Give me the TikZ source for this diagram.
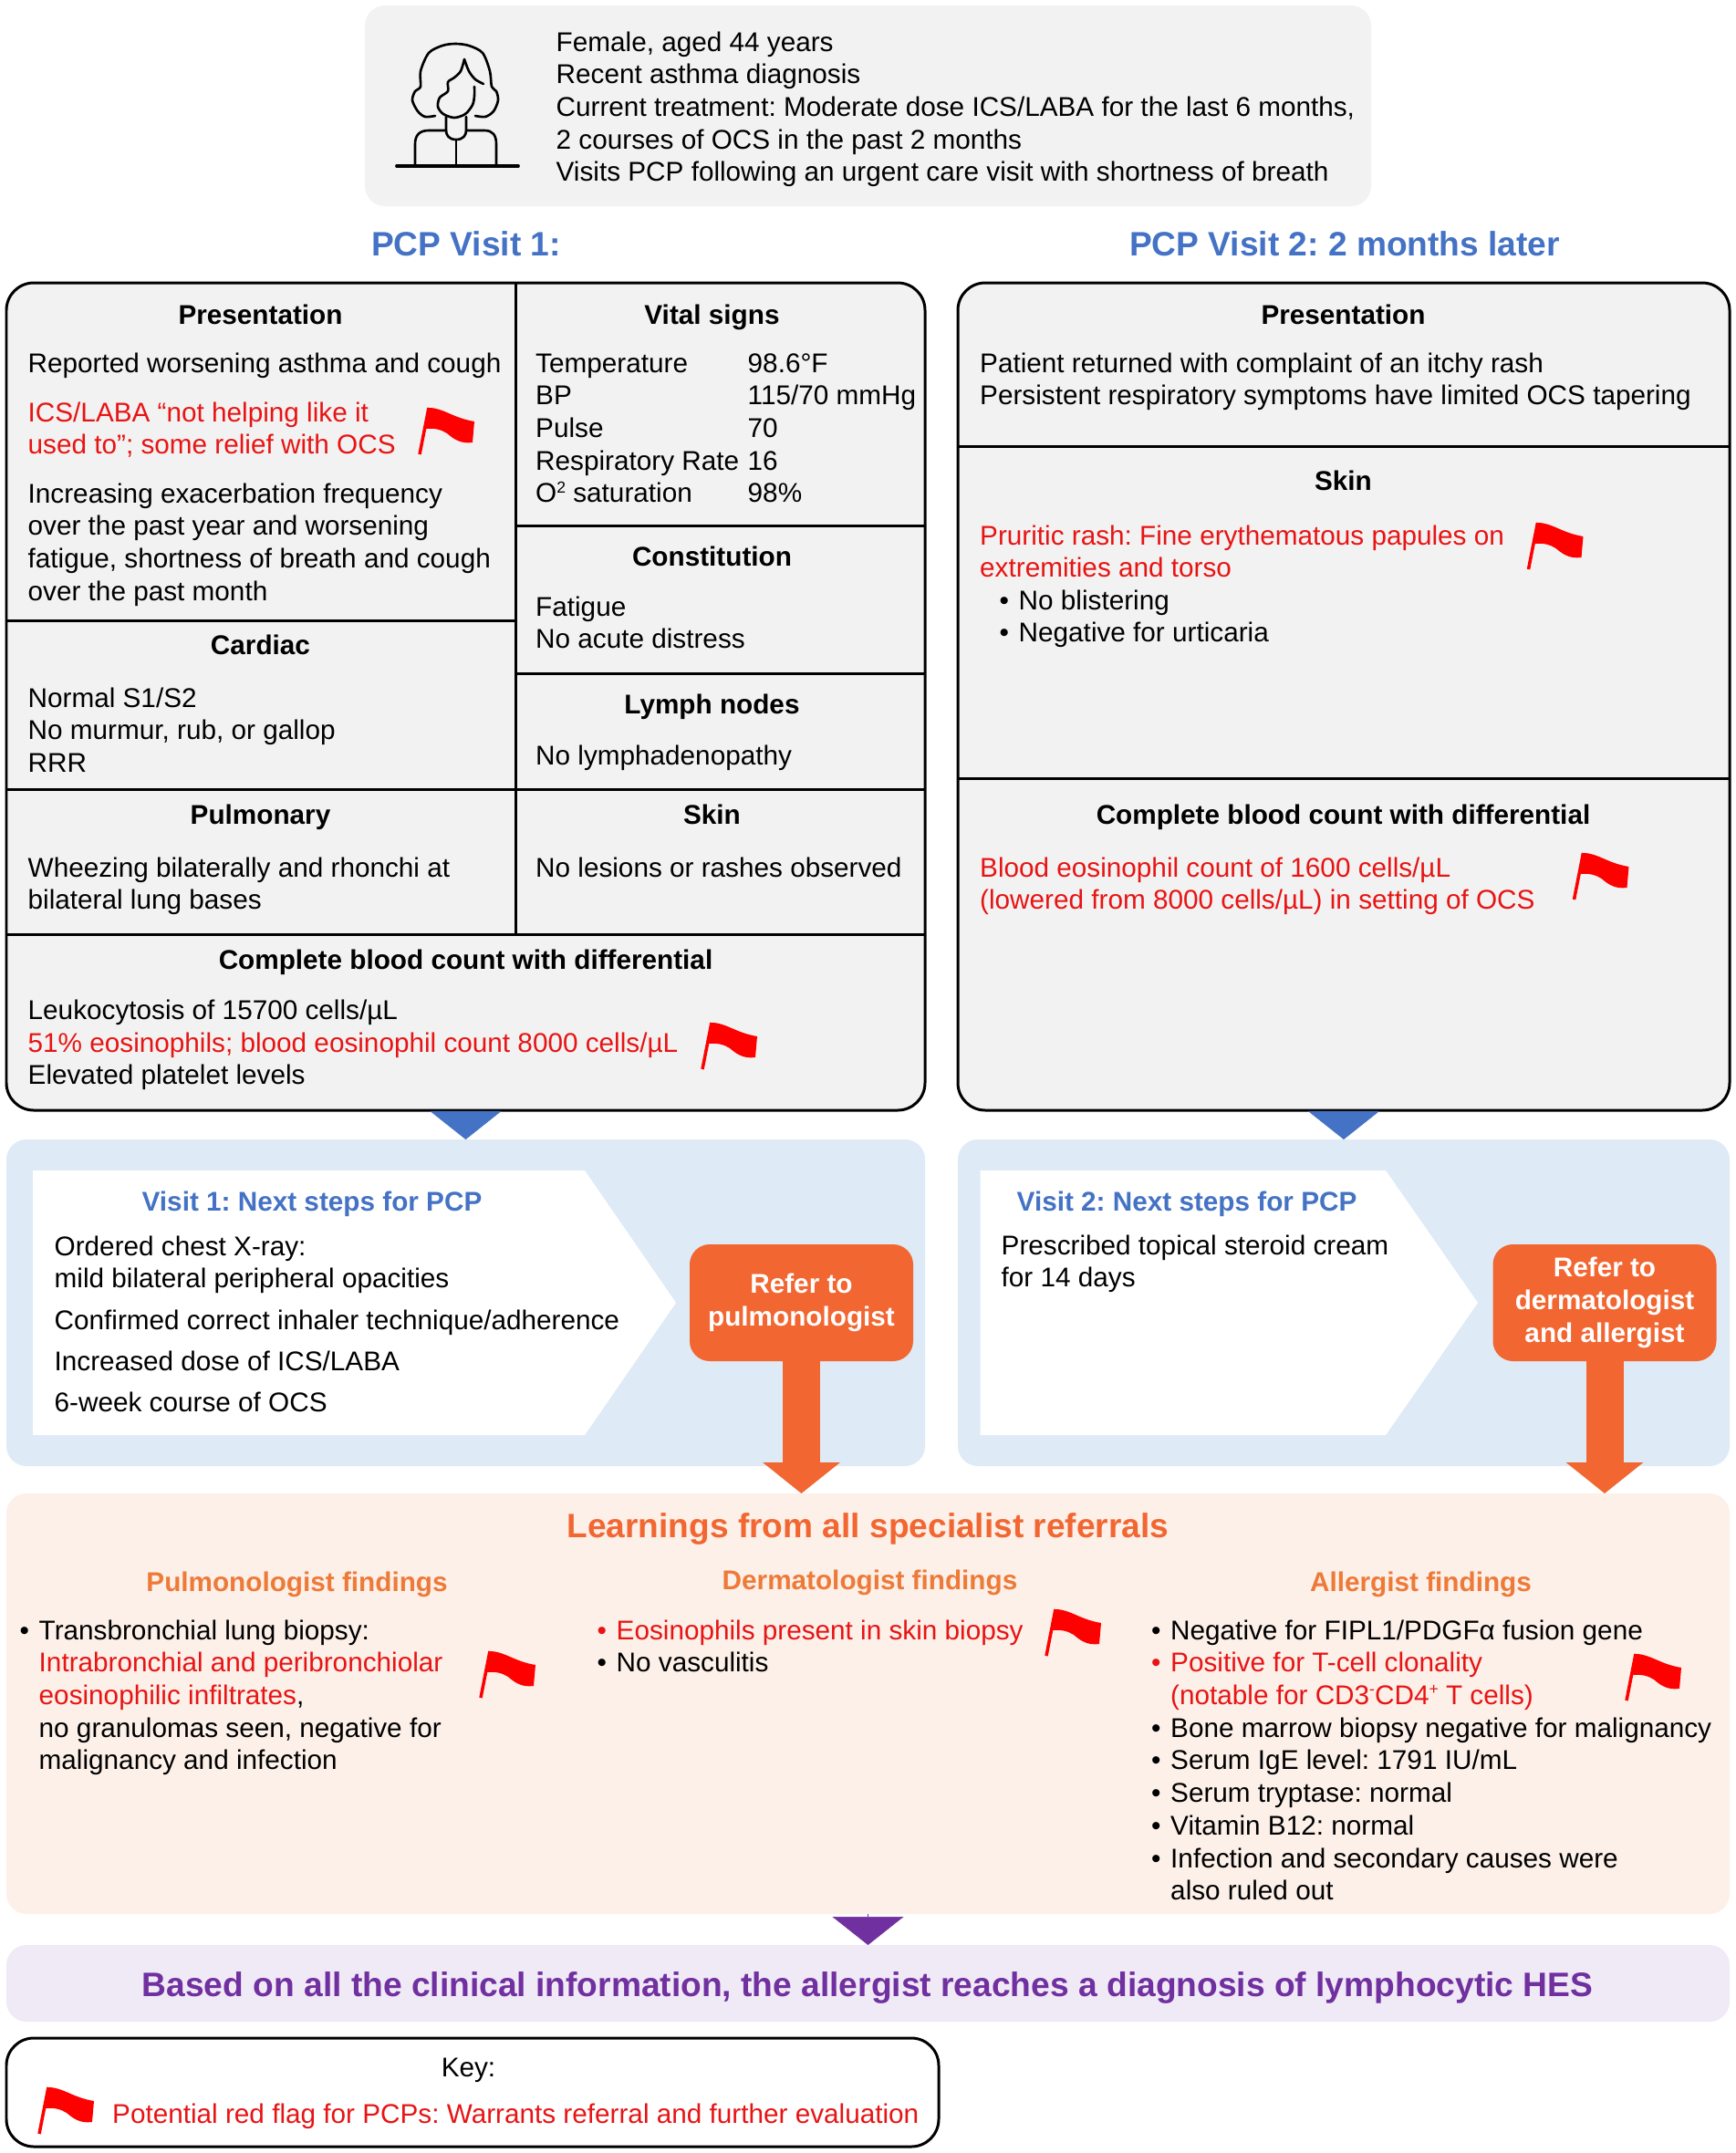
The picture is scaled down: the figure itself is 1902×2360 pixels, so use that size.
\documentclass[tikz,border=0pt]{standalone}
\usepackage{fontspec}
\setmainfont{Liberation Sans}
\usetikzlibrary{arrows.meta,positioning}

\definecolor{panelgrey}{HTML}{F2F2F2}
\definecolor{visitblue}{HTML}{4472C4}
\definecolor{nextblue}{HTML}{DEEAF6}
\definecolor{referorange}{HTML}{F26631}
\definecolor{learnpeach}{HTML}{FCF0E9}
\definecolor{findorange}{HTML}{EE7A38}
\definecolor{dxpurple}{HTML}{7030A0}
\definecolor{dxlilac}{HTML}{F0E9F6}
\definecolor{flagred}{HTML}{E81414}

\frenchspacing
\newcommand{\bodyfont}{\fontsize{8.45}{10.16}\selectfont}
\newcommand{\bul}{\makebox[.21cm][l]{\textbullet}}
\newcommand{\ind}{\hspace*{.21cm}}
\newcommand{\tinysup}[1]{\raisebox{.36em}{\fontsize{5}{6}\selectfont #1}}

\begin{document}
\begin{tikzpicture}[
    x = .01cm, % one unit is one pixel of the reference
    y = -.01cm,
    boxsize/.style 2 args = {minimum width = #1*.01cm, minimum height = #2*.01cm},
    txt/.style = {inner sep = 0pt, yshift = .147cm, anchor = north west, align = left, font = \bodyfont},
    txthead/.style = {txt, anchor = north, align = center, font = \bodyfont\bfseries},
    softbox/.style = {inner sep = 0pt, outer sep = 0pt, rounded corners = .22cm, align = center},
    visitbox/.style = {softbox, draw = black, line width = .85pt, outer sep = .42pt, fill = panelgrey, rounded corners = .3cm},
    referbox/.style = {softbox, fill = referorange, text = white, font = \bodyfont\bfseries},
    rule/.style = {draw = black, line width = .85pt},
    tip/.style = {line width = .2pt, -{Triangle[length = .31cm, width = .78cm]}},
    referarrow/.style = {draw = referorange, line width = .41cm, -{Triangle[length = .34cm, width = .83cm]}},
    icon/.style = {draw = black, line width = .75pt, line cap = round, line join = round},
    pics/redflag/.style = {code = {
        \draw[red, line width = 1pt] (0,51) -- (10,0);
        \fill[red] (10,0) .. controls (26,0) and (36,11) .. (60,15) -- (58,38)
            .. controls (44,40) and (36,33) .. (30,28)
            .. controls (24,24) and (16,22) .. (7,23) -- cycle;
    }}
    ]

    \useasboundingbox (0,0) rectangle (1902,2360);

    % patient
    \node[softbox, fill = panelgrey, boxsize = {1103}{220}] (patient) at (951.5,116) {};
    \node[txt] (history) at (609,45) {\strut Female, aged 44 years\\
        Recent asthma diagnosis\\
        Current treatment: Moderate dose ICS/LABA for the last 6 months,\\
        2 courses of OCS in the past 2 months\\
        Visits PCP following an urgent care visit with shortness of breath};

    \draw[icon, line width = 1.1pt] (435,182) -- (568,182);
    \draw[icon] plot[smooth] coordinates {(477,127) (466,128) (458,122) (452,110) (455,100) (461,95) (461,78) (470,58) (485,50) (499,48) (514,50) (529,58) (537,78) (539,95) (544,100) (546,110) (541,122) (532,128) (521,127)};
    \draw[icon] plot[smooth] coordinates {(509,65) (505,78) (498,85) (491,90) (491,100) (482,107) (480,117) (486,125) (498,129) (510,125) (518,115) (520,105) (520,95)};
    \draw[icon] plot[smooth] coordinates {(509,65) (514,78) (521,87) (530,92)};
    \draw[icon] (489,128) -- (489,143) .. controls (489,148) and (492,153) .. (500,153) .. controls (508,153) and (511,148) .. (511,143) -- (511,128);
    \draw[icon] (489,143) -- (470,143) .. controls (460,143) and (455,148) .. (455,158) -- (455,182);
    \draw[icon] (511,143) -- (531,143) .. controls (540,143) and (544,148) .. (544,158) -- (544,182);
    \draw[icon, line width = .5pt] (500,153) -- (500,182);

    % the two visits
    \node[txthead, font = \fontsize{10.56}{12.6}\selectfont\bfseries, text = visitblue] (title1) at (511,263) {\strut PCP Visit 1:};
    \node[txthead, font = \fontsize{10.56}{12.6}\selectfont\bfseries, text = visitblue] (title2) at (1474,263) {\strut PCP Visit 2: 2 months later};

    \node[visitbox, boxsize = {1007}{907}] (visit1) at (510.5,763.5) {};
    \node[visitbox, boxsize = {846}{907}] (visit2) at (1473,763.5) {};

    \draw[rule] (565,310) -- (565,1024);
    \draw[rule] (7,680) -- (565,680);
    \draw[rule] (7,865) -- (1014,865);
    \draw[rule] (7,1024) -- (1014,1024);
    \draw[rule] (565,576) -- (1014,576);
    \draw[rule] (565,738) -- (1014,738);
    \draw[rule] (1050,489) -- (1896,489);
    \draw[rule] (1050,853) -- (1896,853);

    \node[txthead] (pres1) at (285.5,344) {\strut Presentation};
    \node[txt] (pres1a) at (30,397) {\strut Reported worsening asthma and cough};
    \node[txt, text = flagred] (pres1b) at (30,451) {\strut ICS/LABA “not helping like it\\used to”; some relief with OCS};
    \pic at (460,447) {redflag};
    \node[txt] (pres1c) at (30,540) {\strut Increasing exacerbation frequency\\
        over the past year and worsening\\
        fatigue, shortness of breath and cough\\
        over the past month};

    \node[txthead] (vital) at (780.5,344) {\strut Vital signs};
    \node[txt] (vitalname) at (586.5,397) {\strut Temperature\\BP\\Pulse\\Respiratory Rate\\O\tinysup{2} saturation};
    \node[txt] (vitalvalue) at (819,397) {\strut 98.6°F\\115/70 mmHg\\70\\16\\98\%};

    \node[txthead] (const) at (780.5,609) {\strut Constitution};
    \node[txt] (consttxt) at (586.5,664) {\strut Fatigue\\No acute distress};
    \node[txthead] (lymph) at (780.5,771) {\strut Lymph nodes};
    \node[txt] (lymphtxt) at (586.5,827) {\strut No lymphadenopathy};

    \node[txthead] (card) at (285.5,706) {\strut Cardiac};
    \node[txt] (cardtxt) at (30,764) {\strut Normal S1/S2\\No murmur, rub, or gallop\\RRR};
    \node[txthead] (pulm) at (285.5,892) {\strut Pulmonary};
    \node[txt] (pulmtxt) at (30,950) {\strut Wheezing bilaterally and rhonchi at\\bilateral lung bases};
    \node[txthead] (skin1) at (780.5,892) {\strut Skin};
    \node[txt] (skin1txt) at (586.5,950) {\strut No lesions or rashes observed};

    \node[txthead] (cbc1) at (510.5,1051) {\strut Complete blood count with differential};
    \node[txt] (cbc1txt) at (30,1106.5) {\strut Leukocytosis of 15700 cells/µL\\
        {\color{flagred}51\% eosinophils; blood eosinophil count 8000 cells/µL}\\
        Elevated platelet levels};
    \pic at (770,1121) {redflag};

    \node[txthead] (pres2) at (1472.5,344) {\strut Presentation};
    \node[txt] (pres2txt) at (1073.5,397) {\strut Patient returned with complaint of an itchy rash\\
        Persistent respiratory symptoms have limited OCS tapering};
    \node[txthead] (skin2) at (1472.5,526) {\strut Skin};
    \node[txt, text = flagred] (skin2txt) at (1073.5,586) {\strut Pruritic rash: Fine erythematous papules on\\extremities and torso};
    \node[txt] (skin2list) at (1095,657) {\strut \bul No blistering\\\bul Negative for urticaria};
    \pic at (1675.5,573) {redflag};
    \node[txthead] (cbc2) at (1472.5,892) {\strut Complete blood count with differential};
    \node[txt, text = flagred] (cbc2txt) at (1073.5,950) {\strut Blood eosinophil count of 1600 cells/µL\\(lowered from 8000 cells/µL) in setting of OCS};
    \pic at (1725.5,935) {redflag};

    % next steps
    \node[softbox, fill = nextblue, boxsize = {1007}{358}] (next1) at (510.5,1428) {};
    \node[softbox, fill = nextblue, boxsize = {846}{358}] (next2) at (1473,1428) {};

    \draw[tip, visitblue] (visit1.south) -- (next1.north);
    \draw[tip, visitblue] (visit2.south) -- (next2.north);

    \fill[white] (36,1283) -- (641,1283) -- (741,1428) -- (641,1573) -- (36,1573) -- cycle;
    \fill[white] (1074.5,1283) -- (1519,1283) -- (1620,1428) -- (1519,1573) -- (1074.5,1573) -- cycle;

    \node[txthead, anchor = north west, text = visitblue] (step1) at (155,1316) {\strut Visit 1: Next steps for PCP};
    \node[txt] (step1a) at (59,1365) {\strut Ordered chest X-ray:\\mild bilateral peripheral opacities};
    \node[txt] (step1b) at (59,1446.5) {\strut Confirmed correct inhaler technique/adherence};
    \node[txt] (step1c) at (59,1491.5) {\strut Increased dose of ICS/LABA};
    \node[txt] (step1d) at (59,1536.5) {\strut 6-week course of OCS};
    \node[txthead, anchor = north west, text = visitblue] (step2) at (1114,1316) {\strut Visit 2: Next steps for PCP};
    \node[txt] (step2a) at (1097,1364) {\strut Prescribed topical steroid cream\\for 14 days};

    \node[referbox, boxsize = {245}{128}] (refer1) at (878.5,1428) {Refer to\\pulmonologist};
    \node[referbox, boxsize = {245}{128}] (refer2) at (1759,1428) {Refer to\\dermatologist\\and allergist};

    % specialists
    \node[softbox, fill = learnpeach, boxsize = {1889}{461}] (learn) at (951.5,1867.5) {};

    \draw[referarrow] (refer1.south) -- (refer1.south |- learn.north);
    \draw[referarrow] (refer2.south) -- (refer2.south |- learn.north);

    \node[txthead, font = \fontsize{10.55}{12.5}\selectfont\bfseries, text = referorange] (learntitle) at (951.5,1669) {\strut Learnings from all specialist referrals};

    \node[txthead, text = findorange] (pulmfind) at (325.5,1733) {\strut Pulmonologist findings};
    \node[txt] (pulmlist) at (21,1786) {\strut \bul Transbronchial lung biopsy:\\
        \ind{\color{flagred}Intrabronchial and peribronchiolar}\\
        \ind{\color{flagred}eosinophilic infiltrates},\\
        \ind no granulomas seen, negative for\\
        \ind malignancy and infection};
    \pic at (527,1810) {redflag};

    \node[txthead, text = findorange] (dermfind) at (953.5,1731) {\strut Dermatologist findings};
    \node[txt] (dermlist) at (654,1786) {\strut {\color{flagred}\bul Eosinophils present in skin biopsy}\\\bul No vasculitis};
    \pic at (1147,1764) {redflag};

    \node[txthead, text = findorange] (allfind) at (1557.5,1733) {\strut Allergist findings};
    \node[txt] (alllist) at (1261.5,1786) {\strut \bul Negative for FIPL1/PDGFα fusion gene\\
        {\color{flagred}\bul Positive for T-cell clonality}\\
        \ind{\color{flagred}(notable for CD3\tinysup{-}CD4\tinysup{+} T cells)}\\
        \bul Bone marrow biopsy negative for malignancy\\
        \bul Serum IgE level: 1791 IU/mL\\
        \bul Serum tryptase: normal\\
        \bul Vitamin B12: normal\\
        \bul Infection and secondary causes were\\
        \ind also ruled out};
    \pic at (1783,1813) {redflag};

    % diagnosis and key
    \node[softbox, fill = dxlilac, boxsize = {1889}{84}] (dx) at (951.5,2174) {};
    \node[txthead, font = \fontsize{10.57}{12.5}\selectfont\bfseries, text = dxpurple] (dxtxt) at (951,2172) {\strut Based on all the clinical information, the allergist reaches a diagnosis of lymphocytic HES};

    \draw[tip, dxpurple] (learn.south) -- (dx.north);

    \node[visitbox, fill = white, boxsize = {1022}{119}] (key) at (518,2293.5) {};
    \node[txthead, font = \bodyfont] (keytitle) at (513.5,2265) {\strut Key:};
    \node[txt, text = flagred] (keytxt) at (122.5,2316) {\strut Potential red flag for PCPs: Warrants referral and further evaluation};
    \pic at (43,2288) {redflag};
\end{tikzpicture}
\end{document}
